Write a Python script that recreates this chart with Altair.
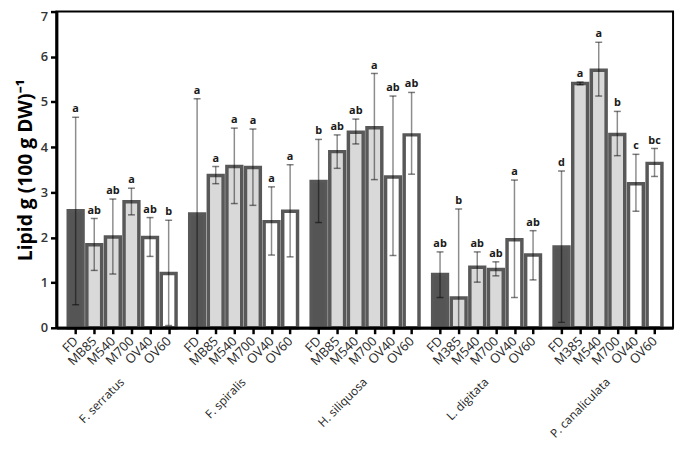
import json
import altair as alt
import pandas as pd

species = ["F. serratus", "F. spiralis", "H. siliquosa", "L. digitata", "P. canaliculata"]
treatments = [
    ["FD", "MB85", "M540", "M700", "OV40", "OV60"],
    ["FD", "MB85", "M540", "M700", "OV40", "OV60"],
    ["FD", "MB85", "M540", "M700", "OV40", "OV60"],
    ["FD", "M385", "M540", "M700", "OV40", "OV60"],
    ["FD", "M385", "M540", "M700", "OV40", "OV60"],
]
kinds = ["FD", "M", "M", "M", "OV", "OV"]
means = [
    [2.59, 1.84, 2.01, 2.79, 2.00, 1.20],
    [2.52, 3.37, 3.57, 3.55, 2.35, 2.58],
    [3.24, 3.90, 4.33, 4.43, 3.34, 4.27],
    [1.18, 0.66, 1.34, 1.29, 1.95, 1.61],
    [1.79, 5.41, 5.70, 4.28, 3.19, 3.64],
]
err_hi = [
    [4.66, 2.42, 2.85, 3.09, 2.44, 2.38],
    [5.07, 3.57, 4.42, 4.40, 3.12, 3.61],
    [4.17, 4.27, 4.62, 5.63, 5.13, 5.21],
    [1.68, 2.63, 1.68, 1.46, 3.27, 2.15],
    [3.47, 5.44, 6.32, 4.79, 3.84, 3.97],
]
err_lo = [
    [0.51, 1.27, 1.19, 2.50, 1.58, 0.05],
    [0.00, 3.19, 2.75, 2.71, 1.61, 1.57],
    [2.33, 3.53, 4.07, 3.28, 1.60, 3.40],
    [0.67, 0.00, 1.01, 1.15, 0.67, 1.06],
    [0.12, 5.38, 5.13, 3.81, 2.58, 3.35],
]
letters = [
    ["a", "ab", "ab", "a", "ab", "b"],
    ["a", "a", "a", "a", "a", "a"],
    ["b", "ab", "ab", "a", "ab", "ab"],
    ["ab", "b", "ab", "ab", "a", "ab"],
    ["d", "a", "a", "b", "c", "bc"],
]
y_ticks = [0, 1, 2, 3, 4, 5, 6, 7]

GROUP_STEP = 6.53  # group spacing in bar-step units (layout)

rows = []
for g, sp in enumerate(species):
    for i, tr in enumerate(treatments[g]):
        rows.append({
            "species": sp,
            "treatment": tr,
            "kind": kinds[i],
            "pos": round(g * GROUP_STEP + i, 2),
            "mean": means[g][i],
            "hi": err_hi[g][i],
            "lo": err_lo[g][i],
            "letter": letters[g][i],
        })
df = pd.DataFrame(rows)

sp_df = pd.DataFrame({
    "species": species,
    "pos": [g * GROUP_STEP + 2.5 for g in range(len(species))],
})

label_map = {f"{p:.2f}": t for p, t in zip(df["pos"], df["treatment"])}
label_expr = json.dumps(label_map) + "[format(datum.value, '.2f')]"

xscale = alt.Scale(domain=[-0.768, 31.85], nice=False, zero=False)
yscale = alt.Scale(domain=[0, 7], nice=False)

x_axis = alt.Axis(
    values=[float(v) for v in df["pos"]], labelExpr=label_expr, labelAngle=315,
    labelAlign="right", labelBaseline="middle", labelPadding=5,
    labelFontSize=13, labelColor="#262626", labelFont="Open Sans",
    tickSize=6, tickWidth=2.5, tickColor="black",
    domainWidth=3, domainColor="black", grid=False, zindex=1,
    labelOverlap=False, labelFlush=False, title=None,
)
x_enc = alt.X("pos:Q", scale=xscale, title=None, axis=x_axis)

y_axis = alt.Axis(
    values=y_ticks, format="d", labelFontSize=13, labelFont="Open Sans",
    labelFontWeight=600, labelColor="#333333", labelPadding=3,
    labelOffset={"condition": {"test": "datum.value == 7", "value": 5}, "value": 0},
    tickSize=6, tickWidth=2.5, tickColor="black",
    domainWidth=3, domainColor="black", grid=False, zindex=1,
    titleFontSize=19.5, titleFont="Open Sans", titleFontWeight="bold",
    titleColor="black", titlePadding=5,
)
TITLE = "Lipid g (100 g DW)⁻¹"

base = alt.Chart(df)

bars = base.mark_bar(size=15, stroke="#585858", strokeWidth=3.5).encode(
    x=x_enc,
    y=alt.Y("mean:Q", scale=yscale, title=TITLE, axis=y_axis),
    fill=alt.Fill("kind:N", scale=alt.Scale(domain=["FD", "M", "OV"],
                                           range=["#555555", "#d9d9d9", "#ffffff"]),
                  legend=None),
)

err = base.mark_rule(color="black", opacity=0.45, strokeWidth=1.5).encode(
    x=x_enc,
    y=alt.Y("lo:Q", scale=yscale, title=TITLE, axis=y_axis),
    y2="hi:Q",
)
cap_hi = base.mark_tick(orient="horizontal", size=7, thickness=1.5,
                        color="black", opacity=0.5).encode(
    x=x_enc, y=alt.Y("hi:Q", scale=yscale, title=TITLE, axis=y_axis))
cap_lo = base.mark_tick(orient="horizontal", size=7, thickness=1.5,
                        color="black", opacity=0.5).encode(
    x=x_enc, y=alt.Y("lo:Q", scale=yscale, title=TITLE, axis=y_axis))

lets = base.mark_text(font="Open Sans", fontWeight="bold", fontSize=11,
                      color="#1a1a1a", baseline="alphabetic", dy=-5).encode(
    x=x_enc, y=alt.Y("hi:Q", scale=yscale, title=TITLE, axis=y_axis),
    text="letter:N",
)

sp_text = alt.Chart(sp_df).mark_text(
    font="Open Sans", fontSize=12, color="#262626", angle=315,
    align="right", baseline="middle",
).encode(
    x=x_enc,
    y=alt.value(373),
    text="species:N",
)

chart = alt.layer(bars, err, cap_hi, cap_lo, lets, sp_text).properties(
    width=624, height=320,
    autosize=alt.AutoSizeParams(type="none"),
    padding={"left": 49, "top": 1, "right": 4, "bottom": 116},
).configure_view(stroke="black", strokeWidth=2)

chart.save("out.html", embed_options={"renderer": "svg", "actions": False})
